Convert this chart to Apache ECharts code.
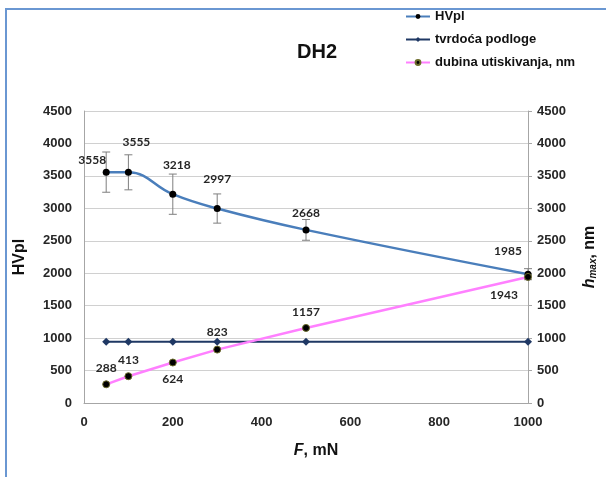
<!DOCTYPE html>
<html>
<head>
<meta charset="utf-8">
<script src="https://cdn.jsdelivr.net/npm/echarts@6/dist/echarts.min.js"></script>
<style>
  html, body { margin: 0; padding: 0; background: #fff; }
  #chart { width: 606px; height: 477px; }
</style>
</head>
<body>
<div id="chart"></div>
<script>
// data
var forces = [50, 100, 200, 300, 500, 1000];
var hvpl = [3558, 3555, 3218, 2997, 2668, 1985];
var hvplErr = [310, 270, 310, 225, 160, 85];
var tvrdoca = [945, 945, 945, 945, 945, 945];
var dubina = [288, 413, 624, 823, 1157, 1943];
var yTicks = [0, 500, 1000, 1500, 2000, 2500, 3000, 3500, 4000, 4500];
var xTicks = [0, 200, 400, 600, 800, 1000];

// label offsets per point
var hvplOffsets = [[-14, -12], [8, -30], [4, -29], [0, -29], [0, -17], [-20, -23]];
var dubinaOffsets = [[0, -16], [0, -16], [0, 17], [0, -17], [0, -16], [-24, 18]];

function pairs(ys) {
  return forces.map(function (x, i) { return [x, ys[i]]; });
}

function labelled(ys, offsets) {
  return forces.map(function (x, i) {
    return {
      value: [x, ys[i]],
      label: { show: true, position: "inside", offset: offsets[i] }
    };
  });
}

function plain(v) { return String(v); }

var chart = echarts.init(document.getElementById("chart"));

var axisText = { color: "#262626", fontSize: 13, fontWeight: "bold", fontFamily: "Liberation Sans", formatter: plain };
var dataLabel = { color: "#262626", fontSize: 12, fontWeight: "bold", fontFamily: "Lato" };

var option = {
  animation: false,
  graphic: [
    {
      type: "rect",
      shape: { x: 6, y: 9, width: 700, height: 600 },
      style: { fill: "none", stroke: "#6A97D2", lineWidth: 2 },
      silent: true
    }
  ],
  title: {
    text: "DH2",
    left: 292,
    top: 37,
    textStyle: { fontSize: 20, fontWeight: "bold", color: "#111", fontFamily: "Liberation Sans" }
  },
  legend: {
    orient: "vertical",
    left: 400,
    top: 4,
    itemWidth: 24,
    itemHeight: 6,
    itemGap: 8,
    data: ["HVpl", "tvrdoća podloge", "dubina utiskivanja, nm"],
    textStyle: { color: "#111", fontSize: 13, fontWeight: "bold", fontFamily: "Liberation Sans", lineHeight: 15 }
  },
  grid: { left: 84, right: 77, top: 111, bottom: 74 },
  xAxis: {
    type: "value",
    min: xTicks[0],
    max: xTicks[xTicks.length - 1],
    interval: 200,
    name: "{i|F}{n|, mN}",
    nameLocation: "middle",
    nameGap: 40,
    nameTextStyle: {
      padding: [0, 0, 0, 20],
      rich: {
        i: { fontSize: 16, fontStyle: "italic", fontWeight: "bold", color: "#111", fontFamily: "Liberation Sans" },
        n: { fontSize: 16, fontWeight: "bold", color: "#111", fontFamily: "Liberation Sans" }
      }
    },
    axisLine: { lineStyle: { color: "#a6a6a6" } },
    axisTick: { show: false },
    axisLabel: Object.assign({ margin: 13 }, axisText),
    splitLine: { show: false }
  },
  yAxis: [
    {
      type: "value",
      min: yTicks[0],
      max: yTicks[yTicks.length - 1],
      interval: 500,
      name: "HVpl",
      nameLocation: "middle",
      nameGap: 56,
      nameRotate: 90,
      nameTextStyle: { fontSize: 16, fontWeight: "bold", color: "#111", fontFamily: "Liberation Sans" },
      axisLine: { show: true, lineStyle: { color: "#a6a6a6" } },
      axisTick: { show: false },
      axisLabel: Object.assign({ margin: 12 }, axisText),
      splitLine: { show: true, lineStyle: { color: "#d0d0d0" } }
    },
    {
      type: "value",
      position: "right",
      min: yTicks[0],
      max: yTicks[yTicks.length - 1],
      interval: 500,
      name: "{i|h}{s|max}{n|, nm}",
      nameLocation: "middle",
      nameGap: 54,
      nameRotate: 90,
      nameTextStyle: {
        rich: {
          i: { fontSize: 16, fontStyle: "italic", fontWeight: "bold", color: "#111", fontFamily: "Liberation Sans" },
          s: { fontSize: 10, fontStyle: "italic", fontWeight: "bold", color: "#111", fontFamily: "Liberation Sans", verticalAlign: "bottom", padding: [6, 0, 0, 0] },
          n: { fontSize: 16, fontWeight: "bold", color: "#111", fontFamily: "Liberation Sans" }
        }
      },
      axisLine: { show: true, lineStyle: { color: "#a6a6a6" } },
      axisTick: { show: true, length: 4, lineStyle: { color: "#a6a6a6" } },
      axisLabel: Object.assign({ margin: 9 }, axisText),
      splitLine: { show: false }
    }
  ],
  series: [
    {
      name: "HVpl",
      type: "line",
      yAxisIndex: 0,
      smooth: 0.45,
      data: labelled(hvpl, hvplOffsets),
      symbol: "circle",
      symbolSize: 7,
      itemStyle: { color: "#000" },
      lineStyle: { color: "#4A7EBB", width: 2.5 },
      label: dataLabel,
      z: 4
    },
    {
      name: "tvrdoća podloge",
      type: "line",
      yAxisIndex: 0,
      data: pairs(tvrdoca),
      symbol: "diamond",
      symbolSize: 8,
      itemStyle: { color: "#1F3864" },
      lineStyle: { color: "#1F3864", width: 2 },
      z: 3
    },
    {
      name: "dubina utiskivanja, nm",
      type: "line",
      yAxisIndex: 1,
      data: labelled(dubina, dubinaOffsets),
      symbol: "circle",
      symbolSize: 7,
      itemStyle: { color: "#000", borderColor: "#6b6b2a", borderWidth: 1 },
      lineStyle: { color: "#FF80FF", width: 2.5 },
      label: dataLabel,
      z: 5
    },
    {
      name: "err",
      type: "custom",
      yAxisIndex: 0,
      data: forces.map(function (x, i) { return [x, hvpl[i] - hvplErr[i], hvpl[i] + hvplErr[i]]; }),
      renderItem: function (params, api) {
        var lo = api.coord([api.value(0), api.value(1)]);
        var hi = api.coord([api.value(0), api.value(2)]);
        var w = 4;
        var st = { stroke: "#7f7f7f", lineWidth: 1 };
        return {
          type: "group",
          children: [
            { type: "line", shape: { x1: hi[0], y1: hi[1], x2: lo[0], y2: lo[1] }, style: st },
            { type: "line", shape: { x1: hi[0] - w, y1: hi[1], x2: hi[0] + w, y2: hi[1] }, style: st },
            { type: "line", shape: { x1: lo[0] - w, y1: lo[1], x2: lo[0] + w, y2: lo[1] }, style: st }
          ]
        };
      },
      z: 2
    }
  ]
};

chart.setOption(option);
</script>
</body>
</html>
